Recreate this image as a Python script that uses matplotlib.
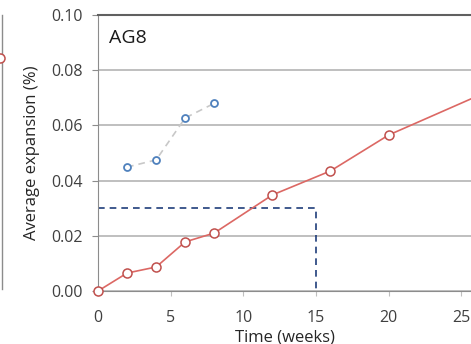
import matplotlib.pyplot as plt
from matplotlib.lines import Line2D

# AG8 expansion data
weeks = [0, 2, 4, 6, 8, 12, 16, 20, 28]
expansion = [0.0, 0.0065, 0.0087, 0.0178, 0.021, 0.0348, 0.0435, 0.0565, 0.075]
early_weeks = [2, 4, 6, 8]
early_expansion = [0.0449, 0.0475, 0.0627, 0.068]
limit_week = 15
limit_value = 0.03

plt.rcParams['font.family'] = ['Open Sans', 'DejaVu Sans']

fig = plt.figure(figsize=(4.71, 3.44), dpi=100)
ax = fig.add_axes([98 / 471, 53 / 344, 1 - 98 / 471, 276 / 344])

# limit lines
ax.plot([0, limit_week, limit_week], [limit_value, limit_value, 0],
        color='#1f3d7a', linestyle=(0, (4, 3)), linewidth=1.2, zorder=2)

ax.plot(early_weeks, early_expansion, color='#c8c8c8', linestyle=(0, (4, 3)),
        linewidth=1.2, marker='o', markersize=5, markerfacecolor='white',
        markeredgecolor='#4f81bd', markeredgewidth=1.3, zorder=3)

ax.plot(weeks, expansion, color='#dc6864', linewidth=1.2, marker='o',
        markersize=6.5, markerfacecolor='white', markeredgecolor='#c0504d',
        markeredgewidth=1.1, zorder=4, clip_on=False)

ax.set_xlim(0, 25.67)
ax.set_ylim(0, 0.10)
ax.set_xticks([0, 5, 10, 15, 20, 25])
ax.set_yticks([0, 0.02, 0.04, 0.06, 0.08, 0.10])
ax.set_yticklabels(['0.00', '0.02', '0.04', '0.06', '0.08', '0.10'])
ax.yaxis.grid(True, color='#b4b4b4', linewidth=1.2)
ax.set_axisbelow(True)
ax.tick_params(axis='both', labelsize=11.5, colors='#404040', width=0.8)
ax.tick_params(axis='y', length=4, color='#8c8c8c', pad=7)
ax.tick_params(axis='x', length=3.5, color='#bfbfbf', pad=10)

ax.spines['right'].set_visible(False)
ax.spines['top'].set_color('#606060')
ax.spines['top'].set_linewidth(1.5)
ax.spines['left'].set_color('#8c8c8c')
ax.spines['bottom'].set_color('#8c8c8c')

ax.set_xlabel('Time (weeks)', fontsize=12, color='#262626', labelpad=2.5)
ax.set_ylabel('Average expansion (%)', fontsize=12, color='#262626', labelpad=8)
ax.text(0.03, 0.915, 'AG8', transform=ax.transAxes, fontsize=14,
        color='#1a1a1a', va='center', ha='left')

# edge of neighbouring panel
fig.add_artist(Line2D([1.5 / 471, 1.5 / 471], [1 - 15 / 344, 1 - 289 / 344],
                      color='#8c8c8c', linewidth=1.0))
fig.add_artist(Line2D([0], [1 - 58 / 344], marker='o', markersize=6.5,
                      markerfacecolor='white', markeredgecolor='#c0504d',
                      markeredgewidth=1.1))

fig.savefig('out.png', dpi=100)
